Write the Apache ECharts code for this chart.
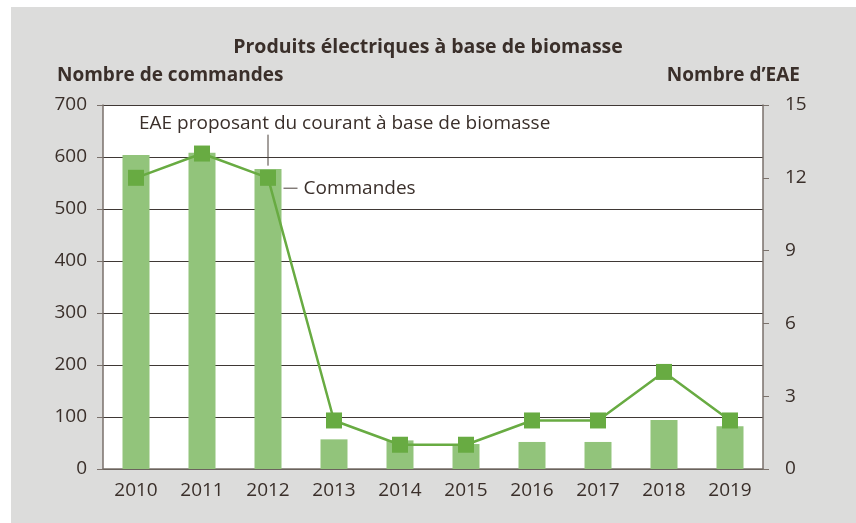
<!DOCTYPE html>
<html>
<head>
<meta charset="utf-8">
<script src="https://cdn.jsdelivr.net/npm/echarts@6/dist/echarts.min.js"></script>
<style>
  html, body { margin: 0; padding: 0; background: #fff; }
  #panel { position: absolute; left: 11px; top: 7px; width: 845px; height: 516px; background: #dcdcdb; }
  #chart { position: absolute; left: 0; top: 0; width: 856px; height: 523px; }
</style>
</head>
<body>
<div id="panel"></div>
<div id="chart"></div>
<script>
// données
const years = ['2010', '2011', '2012', '2013', '2014', '2015', '2016', '2017', '2018', '2019']
const commandes = [604, 608, 577, 57, 55, 48, 52, 52, 94, 82]
const nombreEAE = [12, 13, 12, 2, 1, 1, 2, 2, 4, 2]

const FONT = 'Open Sans'
const TXT = '#3a2f2a'
const AXIS = '#7a716b'

const chart = echarts.init(document.getElementById('chart'))

chart.setOption({
  backgroundColor: 'transparent',
  textStyle: { fontFamily: FONT, color: TXT },
  title: [
    {
      text: 'Produits électriques à base de biomasse',
      left: 'center',
      top: 32,
      textStyle: { fontFamily: FONT, fontSize: 19.5, fontWeight: 'bold', color: TXT }
    },
    {
      text: 'Nombre de commandes',
      left: 52,
      top: 61,
      textStyle: { fontFamily: FONT, fontSize: 19, fontWeight: 'bold', color: TXT }
    },
    {
      text: 'Nombre d’EAE',
      right: 51,
      top: 61,
      textStyle: { fontFamily: FONT, fontSize: 19, fontWeight: 'bold', color: TXT }
    }
  ],
  grid: { left: 103, right: 93, top: 105, bottom: 54, show: true, backgroundColor: '#fff', borderWidth: 0 },
  xAxis: {
    type: 'category',
    data: years,
    axisTick: { show: false },
    axisLine: { lineStyle: { color: AXIS, width: 1.5 } },
    axisLabel: { fontFamily: FONT, fontSize: 19, color: TXT, margin: 12 }
  },
  yAxis: [
    {
      type: 'value',
      min: 0,
      max: 700,
      interval: 100,
      axisLine: { show: true, lineStyle: { color: AXIS, width: 1.5 } },
      axisTick: { show: true, inside: false, length: 6, lineStyle: { color: AXIS } },
      axisLabel: { fontFamily: FONT, fontSize: 19, color: TXT, margin: 16 },
      splitLine: { show: true, lineStyle: { color: '#3f3835', width: 1 } }
    },
    {
      type: 'value',
      min: 0,
      max: 15,
      interval: 3,
      axisLine: { show: true, lineStyle: { color: AXIS, width: 1.5 } },
      axisTick: { show: true, inside: false, length: 6, lineStyle: { color: AXIS } },
      axisLabel: { fontFamily: FONT, fontSize: 19, color: TXT, margin: 22 },
      splitLine: { show: false }
    }
  ],
  series: [
    {
      name: 'Commandes',
      type: 'bar',
      yAxisIndex: 0,
      barWidth: 27,
      itemStyle: { color: '#92c47b' },
      data: commandes
    },
    {
      name: 'EAE proposant du courant à base de biomasse',
      type: 'line',
      yAxisIndex: 1,
      symbol: 'rect',
      symbolSize: 16,
      lineStyle: { color: '#68ab42', width: 2.5 },
      itemStyle: { color: '#68ab42' },
      data: nombreEAE
    }
  ]
})

// annotations rattachées aux séries
const ptLine = chart.convertToPixel({ xAxisIndex: 0, yAxisIndex: 1 }, [1.5, 12.5])
const ptBar = chart.convertToPixel({ xAxisIndex: 0, yAxisIndex: 0 }, [2, 540])
const halfBar = 27 / 2

chart.setOption({
  graphic: [
    {
      type: 'line',
      shape: { x1: ptLine[0], y1: ptLine[1], x2: ptLine[0], y2: ptLine[1] - 31 },
      style: { stroke: '#4a403b', lineWidth: 1 }
    },
    {
      type: 'text',
      x: 139,
      y: 124,
      style: { text: 'EAE proposant du courant à base de biomasse', fill: TXT, font: '19px ' + FONT, verticalAlign: 'middle' }
    },
    {
      type: 'line',
      shape: { x1: ptBar[0] + halfBar + 2, y1: ptBar[1], x2: ptBar[0] + halfBar + 16, y2: ptBar[1] },
      style: { stroke: '#4a403b', lineWidth: 1 }
    },
    {
      type: 'text',
      x: ptBar[0] + halfBar + 22,
      y: ptBar[1],
      style: { text: 'Commandes', fill: TXT, font: '19px ' + FONT, verticalAlign: 'middle' }
    }
  ]
})
</script>
</body>
</html>
